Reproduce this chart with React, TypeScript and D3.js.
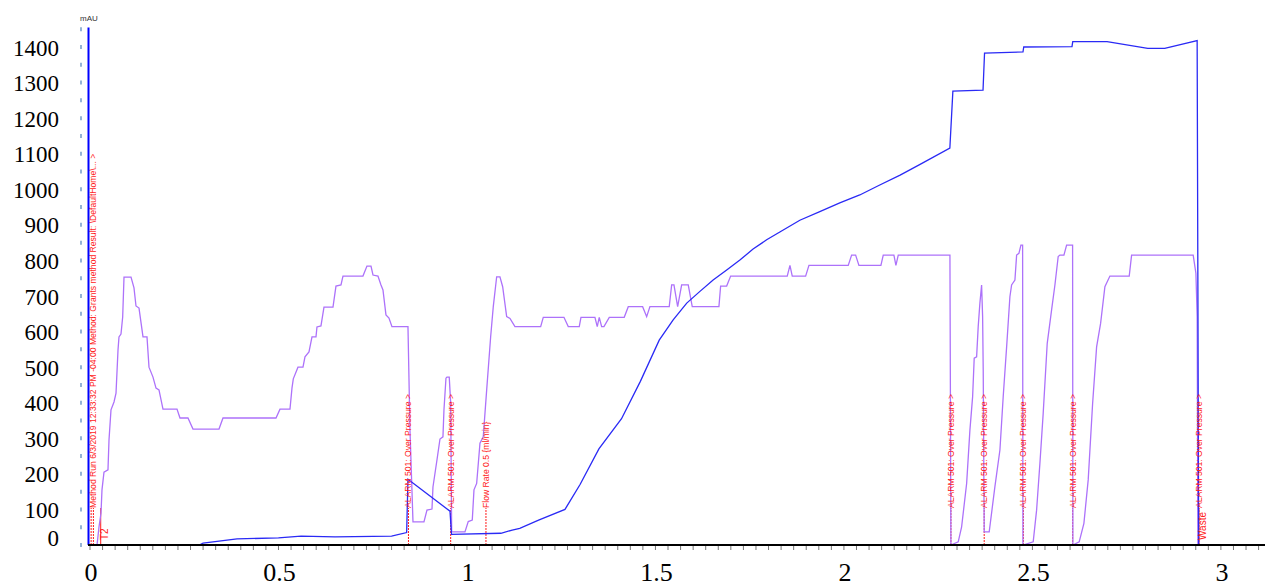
import * as d3 from "d3";

// UV trace (blue), minutes vs mAU
const uvTime = [0, 0.29, 0.3, 0.39, 0.5, 0.56, 0.65, 0.8, 0.84, 0.8435, 0.955, 0.959, 1.09, 1.12, 1.14, 1.19, 1.26, 1.3, 1.35, 1.41, 1.46, 1.51, 1.547, 1.583, 1.618, 1.653, 1.689, 1.724, 1.759, 1.795, 1.83, 1.883, 1.936, 1.989, 2.042, 2.095, 2.149, 2.202, 2.281, 2.289, 2.369, 2.373, 2.475, 2.477, 2.605, 2.607, 2.698, 2.806, 2.851, 2.937, 2.938, 2.941, 3.1];
const uvValue = [0, 0, 5, 17, 20, 25, 23, 25, 35, 185, 95, 30, 33, 42, 47, 70, 100, 170, 270, 355, 460, 576, 633, 680, 713, 745, 773, 801, 832, 858, 880, 913, 937, 962, 984, 1012, 1040, 1070, 1116, 1276, 1279, 1383, 1386, 1400, 1401, 1415, 1415, 1396, 1396, 1418, 1068, 0, 0];

// second trace (purple)
const prTime = [0, 0.0186, 0.0239, 0.0292, 0.0318, 0.0371, 0.0477, 0.0504, 0.0557, 0.0637, 0.069, 0.0743, 0.0769, 0.0822, 0.0867, 0.0902, 0.1088, 0.1167, 0.122, 0.13, 0.1406, 0.1512, 0.1565, 0.1671, 0.1751, 0.183, 0.1936, 0.2308, 0.2387, 0.2599, 0.2732, 0.3422, 0.3528, 0.4934, 0.504, 0.5305, 0.5358, 0.5393, 0.5517, 0.565, 0.5703, 0.5809, 0.5889, 0.5995, 0.6021, 0.6127, 0.6207, 0.6446, 0.6525, 0.6658, 0.6711, 0.7241, 0.7347, 0.7454, 0.7507, 0.7639, 0.7719, 0.7772, 0.7851, 0.7931, 0.801, 0.8435, 0.8488, 0.8568, 0.8859, 0.8939, 0.9072, 0.9098, 0.9204, 0.9284, 0.9363, 0.939, 0.9443, 0.9469, 0.953, 0.9568, 0.9594, 0.9947, 1.0034, 1.0141, 1.0186, 1.0257, 1.0345, 1.0432, 1.0523, 1.0629, 1.0698, 1.0788, 1.0875, 1.0947, 1.1053, 1.1141, 1.1273, 1.1955, 1.2024, 1.2573, 1.2687, 1.2979, 1.3024, 1.3395, 1.3456, 1.3509, 1.3573, 1.3634, 1.3775, 1.4172, 1.4279, 1.466, 1.4767, 1.4854, 1.5366, 1.543, 1.5491, 1.5589, 1.5695, 1.587, 1.5976, 1.6684, 1.6729, 1.6889, 1.6995, 1.8496, 1.8568, 1.8629, 1.8984, 1.9072, 2.0114, 2.0204, 2.031, 2.0398, 2.0981, 2.1043, 2.1326, 2.1379, 2.1441, 2.2812, 2.2838, 2.3032, 2.3122, 2.3255, 2.3342, 2.3414, 2.3456, 2.352, 2.3562, 2.3607, 2.3652, 2.3679, 2.3695, 2.3721, 2.3854, 2.4005, 2.4138, 2.4225, 2.4316, 2.4403, 2.4448, 2.4536, 2.4581, 2.4642, 2.4695, 2.474, 2.4748, 2.5021, 2.5111, 2.5199, 2.5286, 2.5393, 2.5509, 2.5597, 2.5684, 2.5729, 2.5836, 2.5907, 2.6066, 2.6074, 2.6241, 2.6366, 2.648, 2.6597, 2.6703, 2.6809, 2.6923, 2.7056, 2.7568, 2.7631, 2.9265, 2.9337, 2.9371, 2.939, 3.1];
const prValue = [0, 0, 51, 90, 155, 205, 211, 295, 380, 402, 427, 548, 585, 593, 641, 753, 753, 723, 672, 666, 585, 585, 500, 472, 441, 436, 382, 382, 357, 357, 326, 326, 357, 357, 382, 382, 441, 467, 500, 500, 529, 543, 585, 585, 613, 616, 669, 669, 728, 731, 756, 756, 784, 784, 759, 756, 731, 717, 647, 638, 614, 614, 323, 65, 65, 98, 101, 163, 239, 298, 304, 380, 469, 472, 472, 399, 37, 37, 66, 70, 155, 173, 286, 304, 436, 586, 670, 754, 754, 726, 642, 637, 614, 614, 640, 640, 614, 614, 640, 640, 614, 640, 614, 614, 640, 640, 670, 670, 642, 670, 670, 731, 731, 670, 731, 731, 670, 670, 728, 728, 756, 756, 786, 756, 756, 786, 786, 815, 815, 786, 786, 815, 815, 786, 815, 815, 0, 9, 51, 173, 323, 417, 525, 529, 614, 680, 731, 642, 492, 37, 37, 164, 267, 417, 557, 698, 731, 745, 815, 820, 843, 843, 0, 9, 98, 230, 370, 567, 661, 731, 811, 815, 815, 843, 843, 0, 9, 61, 183, 398, 557, 623, 726, 756, 756, 815, 815, 764, 642, 0, 0];

const xTickLabels = [0, 0.5, 1, 1.5, 2, 2.5, 3];
const yTickLabels = [0, 100, 200, 300, 400, 500, 600, 700, 800, 900, 1000, 1100, 1200, 1300, 1400];

// run log events
const alarmTimes = [0.8448, 0.9568, 2.2838, 2.3721, 2.4761, 2.6066, 2.9416];
const alarmText = "ALARM 501: Over Pressure  >";
const methodTimes = [0.003, 0.009];
const methodText = "Method Run 6/3/2019 12:33:32 PM -04:00 Method: Grants method Result: \\DefaultHome\\...  >";
const flowTime = 1.0504;
const flowText = "Flow Rate 0.5 {ml/min}";
const fracTimes = [0.0284, 2.9416];
const fracLabels = ["T2", "Waste"];

const W = 1268;
const H = 588;
const RED = "#ff1a1a";
const SERIF = "Liberation Serif, Times New Roman, DejaVu Serif, serif";
const SANS = "Liberation Sans, Arial, sans-serif";

export default function App() {
  const x = d3.scaleLinear().domain([0, 3.117]).range([90, 1265]);
  const y = d3.scaleLinear().domain([0, 1400]).range([545, 47]);

  const uvLine = d3
    .line<number>()
    .x((_, i) => x(uvTime[i]))
    .y((d) => y(d));
  const prLine = d3
    .line<number>()
    .x((_, i) => x(prTime[i]))
    .y((d) => y(d));

  const minorX = d3.range(0, 3.117, 1 / 30);
  const minorY = d3.range(0, 1451, 50);
  const base = y(0);
  const textStart = y(104);

  return (
    <svg
      width={W}
      height={H}
      style={{ position: "absolute", left: 0, top: 0, background: "#fff" }}
    >
      {/* y tick labels */}
      {yTickLabels.map((v) => (
        <text
          key={v}
          x={59}
          y={Math.min(y(v) + 1, 538)}
          textAnchor="end"
          dominantBaseline="central"
          style={{ fontFamily: SERIF, fontSize: 23 }}
          fill="#000"
        >
          {v}
        </text>
      ))}
      {minorY.map((v) => (
        <line key={v} x1={81} x2={81} y1={y(v) - 2} y2={y(v) + 2} stroke="#5b8cc0" strokeWidth={1.3} />
      ))}
      <text x={89} y={21} textAnchor="middle" style={{ fontFamily: SANS, fontSize: 8 }} fill="#333">
        mAU
      </text>

      {/* x axis */}
      {minorX.map((t, i) => (
        <line key={i} x1={x(t)} x2={x(t)} y1={base + 1} y2={base + 5} stroke="#777" strokeWidth={1} />
      ))}
      {xTickLabels.map((t) => (
        <text
          key={t}
          x={x(t) + 1}
          y={581}
          textAnchor="middle"
          style={{ fontFamily: SERIF, fontSize: 26 }}
          fill="#000"
        >
          {t}
        </text>
      ))}

      {/* event markers */}
      {methodTimes.map((t) => (
        <line key={"m" + t} x1={x(t)} x2={x(t)} y1={base} y2={textStart} stroke={RED} strokeWidth={1} strokeDasharray="2,1" />
      ))}
      {alarmTimes.map((t) => (
        <line key={"a" + t} x1={x(t)} x2={x(t)} y1={base} y2={textStart} stroke={RED} strokeWidth={1} strokeDasharray="2,1" />
      ))}
      <line x1={x(flowTime)} x2={x(flowTime)} y1={base} y2={textStart} stroke={RED} strokeWidth={1} strokeDasharray="2,1" />
      {fracTimes.map((t) => (
        <line key={"f" + t} x1={x(t)} x2={x(t)} y1={base} y2={textStart} stroke={RED} strokeWidth={1} />
      ))}

      {/* traces */}
      <path d={prLine(prValue) || ""} fill="none" stroke="#ad72fa" strokeWidth={1.3} />
      <path d={uvLine(uvValue) || ""} fill="none" stroke="#2a2af5" strokeWidth={1.3} />

      {/* event labels */}
      <g fill={RED} style={{ whiteSpace: "pre", fontFamily: SANS, fontSize: 8.6 }}>
        <text transform={`translate(${x(methodTimes[1])},${textStart}) rotate(-90)`} dominantBaseline="central">
          {methodText}
        </text>
        {alarmTimes.map((t) => (
          <text key={"at" + t} transform={`translate(${x(t)},${textStart}) rotate(-90)`} dominantBaseline="central">
            {alarmText}
          </text>
        ))}
        <text transform={`translate(${x(flowTime)},${textStart}) rotate(-90)`} dominantBaseline="central">
          {flowText}
        </text>
        {fracTimes.map((t, i) => (
          <text
            key={"ft" + t}
            transform={`translate(${x(t) + 4},${base - 5}) rotate(-90)`}
            dominantBaseline="central"
            style={{ fontSize: 10 }}
          >
            {fracLabels[i]}
          </text>
        ))}
      </g>

      {/* axis lines */}
      <line x1={88.5} x2={88.5} y1={y(1455)} y2={base} stroke="#0000ff" strokeWidth={2} />
      <line x1={88} x2={1265} y1={base} y2={base} stroke="#000" strokeWidth={2} />
    </svg>
  );
}
